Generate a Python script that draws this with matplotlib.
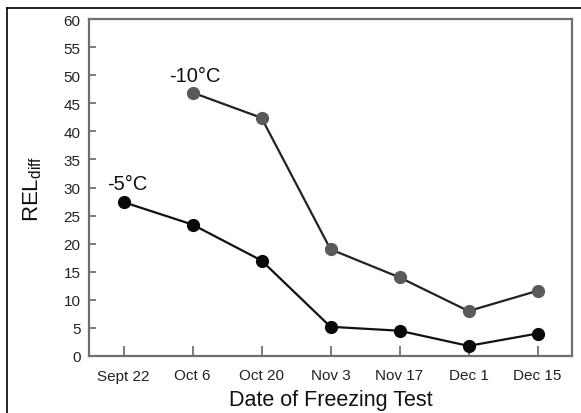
import matplotlib
matplotlib.use("Agg")
import matplotlib.pyplot as plt
from matplotlib.lines import Line2D

plt.rcParams['font.family'] = ['Liberation Sans', 'DejaVu Sans']
plt.rcParams['mathtext.fontset'] = 'custom'
plt.rcParams['mathtext.rm'] = 'Liberation Sans'

dates = ["Sept 22", "Oct 6", "Oct 20", "Nov 3", "Nov 17", "Dec 1", "Dec 15"]
minus5 = [27.4, 23.4, 17.0, 5.2, 4.5, 1.8, 4.0]
minus10_dates = ["Oct 6", "Oct 20", "Nov 3", "Nov 17", "Dec 1", "Dec 15"]
minus10 = [46.9, 42.4, 19.0, 14.0, 8.0, 11.6]
yticks = list(range(0, 61, 5))

fig = plt.figure(figsize=(5.81, 4.14), dpi=100)
ax = fig.add_axes([89/581, 1-357/414, (572-89)/581, (357-20)/414])

x5 = [dates.index(d) for d in dates]
x10 = [dates.index(d) for d in minus10_dates]

ax.plot(x10, minus10, color='#222222', lw=1.6, marker='o', ms=8.5,
        mfc='#5a5a5a', mec='#5a5a5a', zorder=3)
ax.plot(x5, minus5, color='#111111', lw=1.6, marker='o', ms=8.5,
        mfc='#0a0a0a', mec='#0a0a0a', zorder=3)

ax.text(x10[0] + 0.04, 50.0, "-10°C", fontsize=14.5, ha='center', va='center', color='#111111')
ax.text(x5[0] + 0.06, 30.8, "-5°C", fontsize=14.5, ha='center', va='center', color='#111111')

ax.set_xlim(-0.5, 6.5)
ax.set_ylim(0, 60)
ax.set_xticks(range(len(dates)))
ax.set_xticklabels(dates)
ax.set_yticks(yticks)
ax.tick_params(direction='in', width=1.2, color='#666666',
               labelsize=11, labelcolor='#222222')
ax.tick_params(axis='y', length=5, pad=6)
ax.tick_params(axis='x', length=7, pad=9)
for s in ax.spines.values():
    s.set_color('#6e6e6e')
    s.set_linewidth(1.6)

ax.set_xlabel("Date of Freezing Test", fontsize=15.5, color='#111111', labelpad=5)
ax.set_ylabel("REL$_{\\mathrm{diff}}$", fontsize=16, color='#111111', labelpad=14)

# outer border lines (top and left)
fig.add_artist(Line2D([7/581, 1], [1-9/414, 1-9/414], transform=fig.transFigure, color='black', lw=1.2))
fig.add_artist(Line2D([7/581, 7/581], [0, 1-9/414], transform=fig.transFigure, color='black', lw=1.2))

fig.savefig("out.png", dpi=100)
